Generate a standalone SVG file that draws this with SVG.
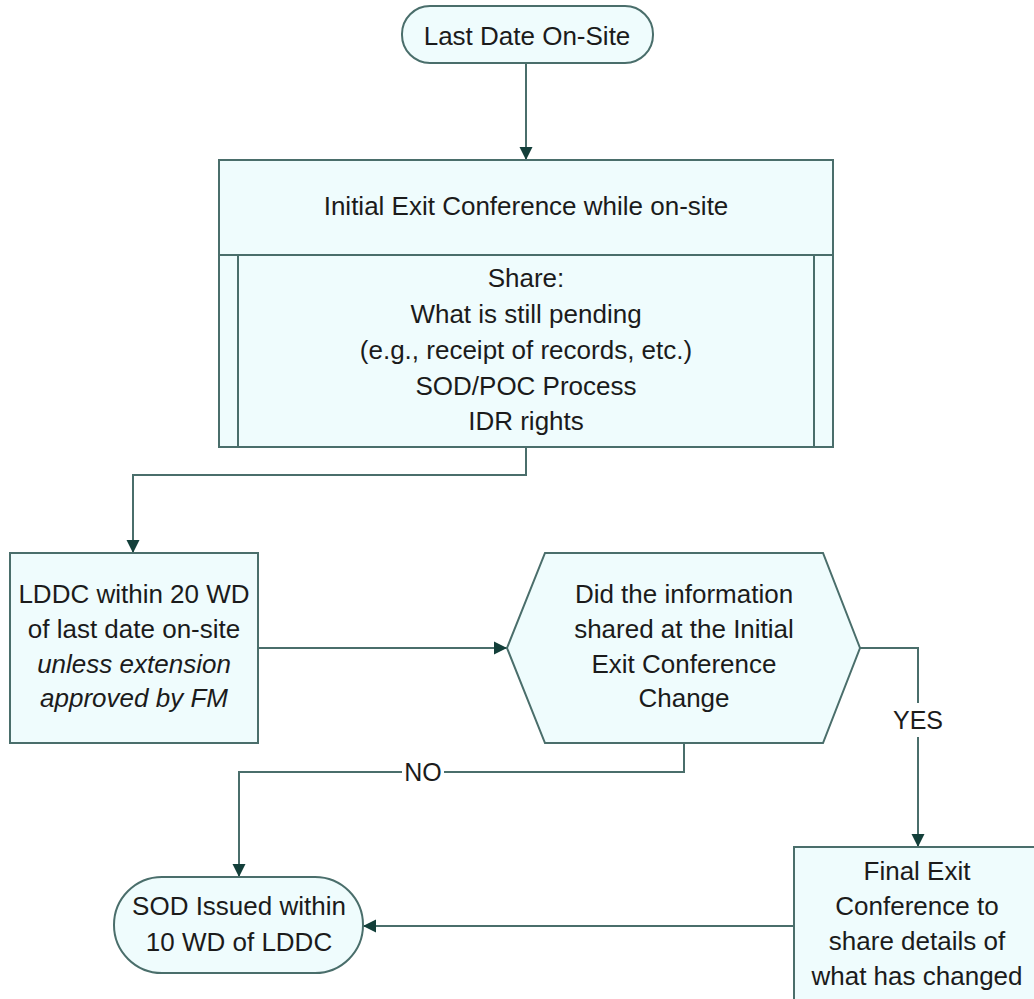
<svg xmlns="http://www.w3.org/2000/svg" width="1034" height="999" viewBox="0 0 1034 999">
  <style>
    .shape { fill: #effcfd; stroke: #4a6e6b; stroke-width: 2; }
    .inner { fill: none; stroke: #4a6e6b; stroke-width: 2; }
    .conn { fill: none; stroke: #4a6e6b; stroke-width: 2; }
    .txt { font-family: "Liberation Sans", Arial, sans-serif; font-size: 26px; fill: #1b1b1b; text-anchor: middle; }
    .it { font-style: italic; }
    .lbl { font-family: "Liberation Sans", Arial, sans-serif; font-size: 25px; fill: #1b1b1b; text-anchor: middle; }
  </style>
  <defs>
    <marker id="arrow" markerUnits="userSpaceOnUse" markerWidth="14" markerHeight="14" refX="13" refY="7" orient="auto">
      <path d="M0,0.5 L13,7 L0,13.5 z" fill="#133f3a"/>
    </marker>
  </defs>
  <rect width="1034" height="999" fill="#ffffff"/>

  <!-- connectors -->
  <g id="connectors">
    <path class="conn" d="M526,63 V160" marker-end="url(#arrow)"/>
    <path class="conn" d="M526,447 V475 H133 V553" marker-end="url(#arrow)"/>
    <path class="conn" d="M258,648 H507" marker-end="url(#arrow)"/>
    <path class="conn" d="M860,648 H918 V847" marker-end="url(#arrow)"/>
    <path class="conn" d="M684,743 V772 H239 V877" marker-end="url(#arrow)"/>
    <path class="conn" d="M794,926 H363" marker-end="url(#arrow)"/>
    <!-- branch labels -->
    <rect x="402" y="760" width="42" height="24" fill="#ffffff"/>
    <text class="lbl" x="423" y="781">NO</text>
    <rect x="894" y="703" width="48" height="34" fill="#ffffff"/>
    <text class="lbl" x="918" y="729">YES</text>
  </g>

  <g id="last-date-onsite">
    <rect class="shape" x="402" y="6" width="251" height="57" rx="28" ry="28"/>
    <text class="txt" x="527" y="45">Last Date On-Site</text>
  </g>

  <g id="initial-exit-conference">
    <rect class="shape" x="219" y="160" width="614" height="287"/>
    <line class="inner" x1="219" y1="255" x2="833" y2="255"/>
    <line class="inner" x1="238" y1="255" x2="238" y2="447"/>
    <line class="inner" x1="814" y1="255" x2="814" y2="447"/>
    <text class="txt" x="526" y="215">Initial Exit Conference while on-site</text>
    <text class="txt" x="526" y="287">Share:</text>
    <text class="txt" x="526" y="323">What is still pending</text>
    <text class="txt" x="526" y="359">(e.g., receipt of records, etc.)</text>
    <text class="txt" x="526" y="395">SOD/POC Process</text>
    <text class="txt" x="526" y="430">IDR rights</text>
  </g>

  <g id="lddc">
    <rect class="shape" x="10" y="553" width="248" height="190"/>
    <text class="txt" x="134" y="603">LDDC within 20 WD</text>
    <text class="txt" x="134" y="638">of last date on-site</text>
    <text class="txt it" x="134" y="673">unless extension</text>
    <text class="txt it" x="134" y="707">approved by FM</text>
  </g>

  <g id="info-changed">
    <polygon class="shape" points="507,648 545,553 823,553 860,648 823,743 545,743"/>
    <text class="txt" x="684" y="603">Did the information</text>
    <text class="txt" x="684" y="638">shared at the Initial</text>
    <text class="txt" x="684" y="673">Exit Conference</text>
    <text class="txt" x="684" y="707">Change</text>
  </g>

  <g id="sod-issued">
    <rect class="shape" x="114" y="877" width="249" height="96" rx="48" ry="48"/>
    <text class="txt" x="239" y="915">SOD Issued within</text>
    <text class="txt" x="239" y="951">10 WD of LDDC</text>
  </g>

  <g id="final-exit-conference">
    <rect class="shape" x="794" y="847" width="250" height="170"/>
    <text class="txt" x="917" y="880">Final Exit</text>
    <text class="txt" x="917" y="915">Conference to</text>
    <text class="txt" x="917" y="950">share details of</text>
    <text class="txt" x="917" y="985">what has changed</text>
  </g>
</svg>
